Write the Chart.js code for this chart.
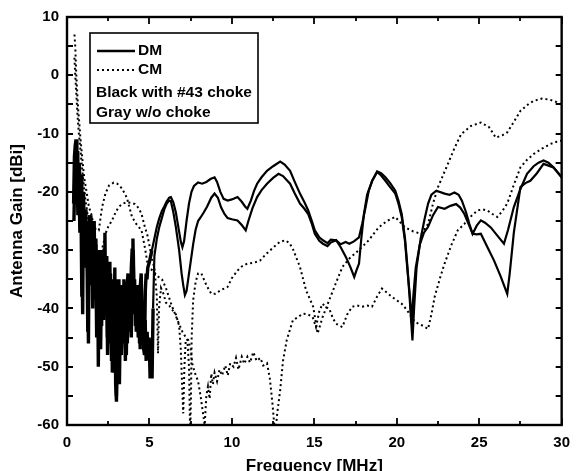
<!DOCTYPE html>
<html>
<head>
<meta charset="utf-8">
<script src="https://cdn.jsdelivr.net/npm/chart.js@4.4.1/dist/chart.umd.min.js"></script>
<style>
  html, body { margin: 0; padding: 0; background: #fff; }
  #wrap { width: 579px; height: 471px; }
</style>
</head>
<body>
<div id="wrap"><canvas id="gainChart" width="579" height="471"></canvas></div>
<script>
// axis ticks
const xTickValues = [0, 2.5, 5, 7.5, 10, 12.5, 15, 17.5, 20, 22.5, 25, 27.5, 30];
const yTickValues = [10, 5, 0, -5, -10, -15, -20, -25, -30, -35, -40, -45, -50, -55, -60];

// DM, gray (w/o choke)
const dmGrayFreq = [0.40,0.45,0.50,0.55,0.60,0.65,0.70,0.75,0.80,0.85,0.90,0.95,1.00,1.05,1.10,1.15,1.20,1.25,1.30,1.35,1.40,1.45,1.50,1.55,1.60,1.65,1.70,1.75,1.80,1.85,1.90,1.95,2.00,2.05,2.10,2.15,2.20,2.25,2.30,2.35,2.40,2.45,2.50,2.55,2.60,2.65,2.70,2.75,2.80,2.85,2.90,2.95,3.00,3.05,3.10,3.15,3.20,3.25,3.30,3.35,3.40,3.45,3.50,3.55,3.60,3.65,3.70,3.75,3.80,3.85,3.90,3.95,4.00,4.05,4.10,4.15,4.20,4.25,4.30,4.35,4.40,4.45,4.50,4.55,4.60,4.65,4.70,4.75,4.80,4.85,
  4.9,5.0,5.15,5.3,5.45,5.6,5.75,5.9,6.05,6.2,6.3,6.45,6.6,6.75,6.9,7.0,7.1,7.25,7.4,7.55,7.7,7.95,8.2,8.45,8.7,8.95,9.1,9.3,9.5,9.74,10.0,10.34,10.6,10.8,10.94,11.15,11.35,11.53,11.8,12.13,12.5,12.93,13.2,13.53,13.8,14.13,14.4,14.63,14.85,15.03,15.3,15.52,15.8,16.0,16.32,16.6,16.9,17.12,17.4,17.71,17.9,18.11,18.3,18.51,18.81,19.05,19.31,19.6,19.91,20.1,20.3,20.5,20.65,20.8,20.95,21.05,21.2,21.45,21.7,21.9,22.1,22.4,22.9,23.2,23.5,23.75,23.95,24.2,24.4,24.6,24.85,25.1,25.35,25.7,26.1,26.5,26.75,27.1,27.5,27.9,28.3,28.6,28.9,29.2,29.5,29.8,30.0];
const dmGrayGain = [-22,-14,-12,-11,-19,-13,-22,-15,-25,-17,-28,-41,-20,-27,-23,-31,-25,-34,-46,-26,-33,-24,-36,-27,-32,-25,-38,-28,-35,-30,-50,-31,-40,-30,-43,-32,-38,-30,-27,-41,-31,-45,-33,-40,-32,-46,-35,-51,-38,-48,-33,-53,-56,-40,-35,-50,-37,-45,-48,-36,-44,-35,-46,-38,-48,-36,-34,-42,-37,-44,-33,-30,-28,-38,-35,-43,-40,-36,-44,-38,-46,-36,-34,-41,-39,-47,-48,-37,-34,-35,
  -33,-32,-30,-28,-26,-24.5,-23.3,-22.5,-21.6,-21,-20.9,-21.8,-23.5,-26,-28.5,-29.5,-28.5,-25,-22,-20,-19,-18.4,-18.6,-18.3,-17.8,-17.5,-18.3,-20,-21.2,-21.5,-21.3,-20.9,-21.7,-22.5,-22.9,-21.5,-19.8,-18.6,-17.5,-16.4,-15.6,-14.8,-15.3,-16.4,-18.2,-20.3,-21.8,-23.2,-25,-26.6,-27.8,-28.3,-28.8,-28.2,-28.3,-29,-28.6,-28.9,-28.5,-27.8,-25.5,-22.6,-19.8,-18.1,-16.5,-16.8,-17.5,-18.5,-19.8,-21.5,-23.8,-28,-33,-39,-45.5,-40,-33,-28,-24.5,-22,-20.5,-19.8,-20.3,-20.5,-20.1,-20.5,-21.5,-23.5,-25.5,-27.2,-25.8,-24.9,-25.3,-26.1,-27.5,-28.9,-26.5,-22.6,-19.5,-16.9,-15.6,-15,-14.6,-15,-15.8,-16.8,-17.5];

// DM, black (with #43 choke)
const dmBlackFreq = [0.42,0.48,0.54,0.60,0.66,0.72,0.78,0.84,0.90,0.96,1.02,1.08,1.14,1.20,1.26,1.32,1.38,1.44,1.50,1.56,1.62,1.68,1.74,1.80,1.86,1.92,1.98,2.04,2.10,2.16,2.22,2.28,2.34,2.40,2.46,2.52,2.58,2.64,2.70,2.76,2.82,2.88,2.94,3.00,3.06,3.12,3.18,3.24,3.30,3.36,3.42,3.48,3.54,3.60,3.66,3.72,3.78,3.84,3.90,3.96,4.02,4.08,4.14,4.20,4.26,4.32,4.38,4.44,4.50,4.56,4.62,4.68,4.74,4.80,4.86,4.92,4.98,5.04,5.10,5.16,5.22,
  5.3,5.45,5.6,5.75,5.9,6.05,6.2,6.3,6.45,6.6,6.8,6.95,7.05,7.15,7.25,7.35,7.5,7.65,7.8,7.95,8.1,8.3,8.5,8.75,8.95,9.15,9.35,9.55,9.74,10.0,10.34,10.6,10.84,11.0,11.25,11.53,11.8,12.13,12.5,12.83,13.1,13.53,13.8,14.13,14.4,14.63,14.85,15.03,15.3,15.52,15.8,16.0,16.32,16.6,16.92,17.2,17.42,17.55,17.71,17.85,18.01,18.2,18.51,18.81,19.05,19.31,19.6,19.91,20.1,20.3,20.5,20.65,20.8,20.9,21.0,21.15,21.4,21.65,21.9,22.2,22.5,22.9,23.25,23.6,23.85,24.1,24.35,24.6,24.85,25.1,25.5,25.9,26.3,26.7,26.85,27.1,27.5,27.8,28.1,28.5,28.9,29.2,29.5,29.8,30.0];
const dmBlackGain = [-25,-16,-22,-14,-24,-17,-27,-20,-38,-24,-30,-24,-33,-27,-44,-29,-24,-35,-28,-40,-26,-34,-29,-45,-32,-39,-30,-47,-34,-30,-42,-33,-38,-31,-48,-36,-44,-34,-49,-39,-51,-37,-46,-55,-42,-36,-53,-40,-47,-38,-45,-37,-49,-40,-46,-35,-43,-39,-45,-33,-30,-41,-37,-44,-38,-45,-40,-47,-36,-43,-40,-46,-42,-49,-44,-48,-45,-52,-46,-52,-40,
  -31,-28,-26,-24.5,-23,-22,-21.5,-21.6,-23.5,-26,-30,-34,-36,-37.7,-37,-35,-32,-29,-26.5,-25,-24.4,-23.5,-22.5,-21,-20.3,-21,-22.7,-23.8,-24.5,-24.7,-24.9,-25.7,-26.6,-25,-22.8,-20.9,-19.7,-18.6,-17.6,-16.9,-17.3,-18.6,-20.2,-22,-22.9,-23.8,-25.5,-27.2,-28.4,-28.9,-29.3,-28.7,-28.3,-29.5,-31.2,-33,-34.6,-33.5,-32.3,-28,-23.8,-20.5,-18.1,-16.6,-17.2,-18.1,-19.2,-20.3,-22,-24.3,-28.5,-33.5,-38,-42.5,-38,-33,-29,-27,-26,-24,-22.6,-22.9,-22.4,-22.1,-22.7,-23.8,-25.5,-27.2,-27.3,-27.2,-29.5,-31.8,-34.5,-37.5,-34,-27,-19.2,-18.5,-18.1,-16.8,-15.2,-15.5,-15.8,-16.8,-17.5];

// CM, gray (w/o choke)
const cmGrayFreq = [0.45,0.5,0.55,0.6,0.68,0.74,0.82,0.94,1.04,1.14,1.33,1.47,1.6,1.75,1.93,2.03,2.13,2.33,2.55,2.83,3.05,3.33,3.63,3.94,4.2,4.52,4.72,4.92,5.2,5.5,5.76,6.0,6.35,6.7,7.0,7.3,7.4,7.47,7.52,7.56,7.65,7.8,7.95,8.15,8.45,8.75,9.0,9.3,9.74,10.0,10.34,10.6,10.94,11.3,11.7,12.1,12.53,12.9,13.23,13.5,13.73,14.13,14.5,14.93,15.2,15.5,15.9,16.3,16.7,17.1,17.7,18.3,18.9,19.4,19.9,20.5,21.0,21.5,21.9,22.2,22.5,23.1,23.5,23.9,24.5,25.1,25.6,26.0,26.4,26.7,27.1,27.5,28.0,28.3,28.8,29.3,29.7,30.0];
const cmGrayGain = [7,5,1,-2,-6,-8,-11,-14.6,-17.5,-19.2,-22.6,-23.8,-25.5,-26.5,-26.6,-24.5,-22.6,-20.3,-18.9,-18.4,-18.6,-19.4,-21,-24.3,-25.5,-26.6,-29.5,-32.9,-33.5,-34.5,-35,-36.5,-39.5,-42,-44,-45.4,-50,-62,-55,-45,-38.6,-35.5,-34,-34,-36,-37.5,-37.5,-36.9,-36.3,-34.8,-33.5,-32.8,-32.3,-32.2,-31.8,-30.6,-29.5,-28.6,-28.3,-28.8,-30,-32.9,-36.9,-39.7,-44.3,-41.5,-38.6,-35.7,-32.9,-31.5,-30,-28.3,-26.1,-25,-24.3,-26.1,-26.8,-27.2,-25.5,-22,-19.2,-15.2,-12.5,-10.1,-8.7,-8.1,-8.9,-10.7,-10.3,-9.8,-8,-6.1,-4.9,-4.4,-4.0,-4.2,-4.6,-5.0];

// CM, black (with #43 choke)
const cmBlackFreq = [0.45,0.5,0.56,0.64,0.72,0.82,0.95,1.1,1.3,1.5,1.7,1.9,2.1,2.2,2.33,2.5,2.73,2.95,3.13,3.4,3.63,3.9,4.12,4.35,4.52,4.72,4.88,5.02,5.15,5.3,5.45,5.52,5.58,5.7,5.85,6.0,6.2,6.4,6.6,6.8,6.9,6.98,7.05,7.12,7.2,7.35,7.5,7.6,7.75,7.95,8.1,8.25,8.35,8.45,8.55,8.65,8.75,8.85,8.95,9.1,9.25,9.4,9.6,9.75,9.9,10.1,10.25,10.4,10.6,10.75,10.94,11.1,11.3,11.5,11.73,11.9,12.13,12.3,12.45,12.53,12.62,12.75,12.93,13.1,13.33,13.7,14.0,14.3,14.6,14.9,15.1,15.3,15.5,15.7,15.9,16.1,16.3,16.7,17.0,17.3,17.6,17.9,18.2,18.5,18.8,19.1,19.4,19.7,20.0,20.3,20.6,20.9,21.1,21.3,21.6,21.9,22.1,22.3,22.6,22.9,23.3,23.7,24.1,24.5,24.9,25.2,25.5,25.8,26.1,26.4,26.7,27.1,27.5,27.9,28.3,28.8,29.3,29.7,30.0];
const cmBlackGain = [3,0,-3,-7,-10,-13,-17,-21,-25,-28,-30,-31,-30,-29,-27.2,-26,-24.9,-23.5,-22.6,-22,-21.8,-21.9,-22.1,-22.8,-23.8,-26,-27.5,-29.5,-31.5,-33,-38,-47.7,-40,-36.5,-37.5,-39,-39.5,-40.3,-41,-43,-47,-53,-58,-50,-45.5,-45.4,-47,-49.5,-51,-52.5,-55,-58,-60,-55,-53.4,-55.5,-51.2,-53,-51,-52.5,-50.5,-51.5,-49.8,-51.5,-49.4,-50,-48.5,-50.5,-48.3,-49.5,-48.3,-49.3,-47.5,-49,-48.5,-49.8,-49.4,-52,-56,-58.6,-62,-58,-54,-49,-45.4,-42,-41.5,-40.9,-41,-41.5,-43.2,-40.5,-39.2,-39.8,-40,-41.5,-42.6,-43.2,-41,-39.7,-39.5,-39.7,-39.5,-39.7,-38,-36.6,-37.3,-38,-38.6,-39.2,-40.2,-41.5,-42.3,-42.6,-43,-43.5,-41,-38,-35,-32.3,-29.2,-26.6,-25.5,-24.2,-23.2,-23,-23.2,-23.8,-24.3,-23.3,-22,-18.8,-15.8,-14.5,-13.5,-12.6,-11.8,-11.4,-11.2];

const legendLines = ['DM', 'CM', 'Black with #43 choke', 'Gray w/o choke'];

const fontFamily = '"Liberation Sans", Arial, sans-serif';

function toPoints(freq, gain) {
    return freq.map((f, i) => ({ x: f, y: gain[i] }));
}

// inward ticks on all four sides plus the frame
const frameTicks = {
    id: 'frameTicks',
    afterDatasetsDraw(chart) {
        const { ctx, chartArea: a, scales: { x, y } } = chart;
        ctx.save();
        ctx.strokeStyle = '#000';
        ctx.lineWidth = 1.8;
        ctx.beginPath();
        xTickValues.forEach(v => {
            const px = Math.round(x.getPixelForValue(v));
            const len = v % 5 === 0 ? 7 : 4;
            ctx.moveTo(px, a.bottom); ctx.lineTo(px, a.bottom - len);
            ctx.moveTo(px, a.top); ctx.lineTo(px, a.top + len);
        });
        yTickValues.forEach(v => {
            const py = Math.round(y.getPixelForValue(v));
            ctx.moveTo(a.left, py); ctx.lineTo(a.left + 6, py);
            ctx.moveTo(a.right, py); ctx.lineTo(a.right - 6, py);
        });
        ctx.stroke();
        ctx.lineWidth = 2.4;
        ctx.strokeRect(a.left, a.top, a.right - a.left, a.bottom - a.top);
        ctx.restore();
    }
};

// boxed legend in the upper left corner
const boxLegend = {
    id: 'boxLegend',
    afterDraw(chart) {
        const ctx = chart.ctx;
        const bx = 90, by = 33, bw = 168, bh = 90;
        ctx.save();
        ctx.fillStyle = '#fff';
        ctx.fillRect(bx, by, bw, bh);
        ctx.strokeStyle = '#000';
        ctx.lineWidth = 1.6;
        ctx.strokeRect(bx, by, bw, bh);

        ctx.lineWidth = 2.4;
        ctx.beginPath();
        ctx.moveTo(97, 51); ctx.lineTo(135, 51);
        ctx.stroke();
        ctx.lineWidth = 1.8;
        ctx.setLineDash([2, 3]);
        ctx.beginPath();
        ctx.moveTo(97, 70); ctx.lineTo(135, 70);
        ctx.stroke();
        ctx.setLineDash([]);

        ctx.fillStyle = '#000';
        ctx.font = 'bold 15.5px ' + fontFamily;
        ctx.textBaseline = 'middle';
        ctx.textAlign = 'left';
        ctx.fillText(legendLines[0], 138, 51);
        ctx.fillText(legendLines[1], 138, 70);
        ctx.fillText(legendLines[2], 96, 93);
        ctx.fillText(legendLines[3], 96, 113);
        ctx.restore();
    }
};

// the low-frequency ringing reads as a dense black band in the scan
const solid = {
    borderWidth: 2.2, pointRadius: 0, tension: 0, fill: false,
    segment: { borderWidth: c => (c.p1.parsed.x < 5.25 ? 3.4 : 2.2) }
};
const dotted = { borderWidth: 2, borderDash: [2, 3], pointRadius: 0, tension: 0, fill: false };

new Chart(document.getElementById('gainChart').getContext('2d'), {
    type: 'line',
    data: {
        datasets: [
            { label: 'DM gray', data: toPoints(dmGrayFreq, dmGrayGain), borderColor: '#000', ...solid },
            { label: 'DM black', data: toPoints(dmBlackFreq, dmBlackGain), borderColor: '#000', ...solid },
            { label: 'CM gray', data: toPoints(cmGrayFreq, cmGrayGain), borderColor: '#000', ...dotted },
            { label: 'CM black', data: toPoints(cmBlackFreq, cmBlackGain), borderColor: '#000', ...dotted }
        ]
    },
    options: {
        responsive: false,
        animation: false,
        devicePixelRatio: 1,
        layout: { padding: { top: 16, right: 10, left: 0, bottom: 0 } },
        plugins: { legend: { display: false }, tooltip: { enabled: false } },
        scales: {
            x: {
                type: 'linear',
                min: 0,
                max: 30,
                afterFit(scale) { scale.height = 46; },
                afterBuildTicks(scale) { scale.ticks = [0, 5, 10, 15, 20, 25, 30].map(v => ({ value: v })); },
                grid: { display: false, drawTicks: false },
                border: { display: false },
                ticks: { color: '#000', padding: 9, maxRotation: 0, font: { family: fontFamily, size: 15, weight: 'bold' } },
                title: { display: true, text: 'Frequency [MHz]', color: '#000', padding: { top: 0, bottom: -6 }, font: { family: fontFamily, size: 17, weight: 'bold' } }
            },
            y: {
                min: -60,
                max: 10,
                afterFit(scale) { scale.width = 67; },
                afterBuildTicks(scale) { scale.ticks = [10, 0, -10, -20, -30, -40, -50, -60].map(v => ({ value: v })); },
                grid: { display: false, drawTicks: false },
                border: { display: false },
                ticks: { color: '#000', padding: 8, font: { family: fontFamily, size: 15, weight: 'bold' } },
                title: { display: true, text: 'Antenna Gain [dBi]', color: '#000', padding: { top: 7, bottom: 0 }, font: { family: fontFamily, size: 17, weight: 'bold' } }
            }
        }
    },
    plugins: [frameTicks, boxLegend]
});
</script>
</body>
</html>
